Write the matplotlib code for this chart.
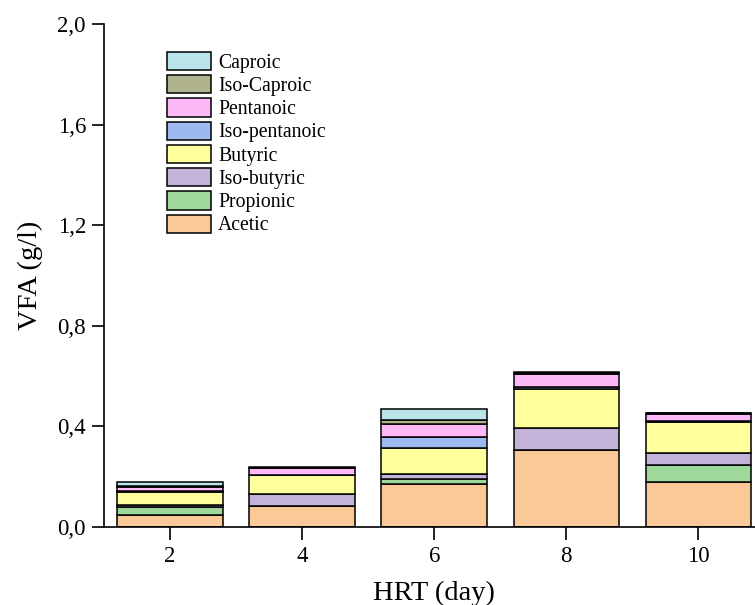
import matplotlib
matplotlib.use("Agg")
import matplotlib.pyplot as plt
import numpy as np

plt.rcParams['font.family'] = ['Liberation Serif', 'DejaVu Serif']

hrt = [2, 4, 6, 8, 10]
acetic        = [0.049, 0.085, 0.169, 0.308, 0.180]
propionic     = [0.030, 0.000, 0.023, 0.000, 0.067]
iso_butyric   = [0.007, 0.047, 0.017, 0.086, 0.048]
butyric       = [0.054, 0.073, 0.106, 0.155, 0.123]
iso_pentanoic = [0.004, 0.003, 0.043, 0.008, 0.005]
pentanoic     = [0.016, 0.025, 0.052, 0.051, 0.027]
iso_caproic   = [0.003, 0.002, 0.016, 0.004, 0.003]
caproic       = [0.016, 0.002, 0.044, 0.003, 0.002]

series = [
    ("Acetic", acetic, "#FBC897"),
    ("Propionic", propionic, "#9ED89A"),
    ("Iso-butyric", iso_butyric, "#C3B3D8"),
    ("Butyric", butyric, "#FFFF9C"),
    ("Iso-pentanoic", iso_pentanoic, "#9DB9F0"),
    ("Pentanoic", pentanoic, "#FDB8F8"),
    ("Iso-Caproic", iso_caproic, "#B0B38C"),
    ("Caproic", caproic, "#B8E4EA"),
]
y_ticks = [0.0, 0.4, 0.8, 1.2, 1.6, 2.0]
y_tick_labels = ["0,0", "0,4", "0,8", "1,2", "1,6", "2,0"]

fig = plt.figure(figsize=(7.55, 6.05), dpi=100)
ax = fig.add_axes([104/755, 78/605, (764.5-104)/755, (527-24)/605])

bottom = np.zeros(len(hrt))
handles = []
for name, vals, col in series:
    b = ax.bar(hrt, vals, width=1.6, bottom=bottom, color=col,
               edgecolor="black", linewidth=1.1, label=name, zorder=2)
    handles.append(b)
    bottom += np.array(vals)

ax.set_xlim(1, 11)
ax.set_ylim(0, 2.0)
ax.set_xticks(hrt)
ax.set_yticks(y_ticks)
ax.set_yticklabels(y_tick_labels)
ax.tick_params(axis='both', direction='out', length=9, width=1.2, labelsize=16.5)
ax.tick_params(axis='x', pad=5)
ax.tick_params(axis='y', pad=4)
for s in ['top', 'right']:
    ax.spines[s].set_visible(False)
for s in ['left', 'bottom']:
    ax.spines[s].set_linewidth(1.2)

ax.set_xlabel("HRT (day)", fontsize=20.5, labelpad=10)
ax.set_ylabel("VFA (g/l)", fontsize=20.5, labelpad=10)

leg = ax.legend(handles[::-1], [s[0] for s in series[::-1]],
                loc='upper left', bbox_to_anchor=(153/755, 1 - 38/605),
                bbox_transform=fig.transFigure, frameon=False,
                fontsize=14.2, handlelength=2.25, handleheight=1.05,
                labelspacing=0.12, handletextpad=0.35, borderpad=0.2)

fig.savefig("out.png", dpi=100)
